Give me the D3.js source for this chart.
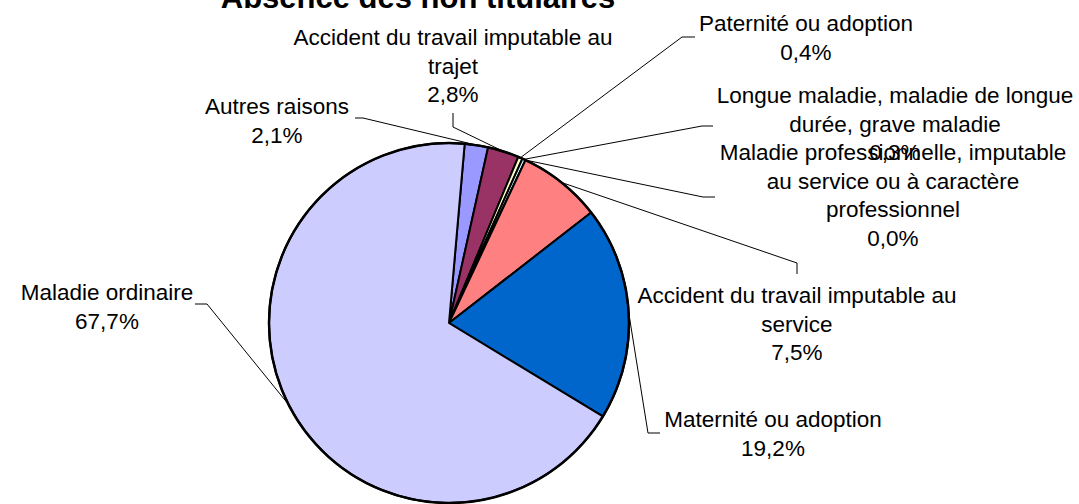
<!DOCTYPE html>
<html>
<head>
<meta charset="utf-8">
<script src="https://cdn.jsdelivr.net/npm/d3@7"></script>
<style>
  html, body { margin: 0; padding: 0; background: #fff; }
  svg { display: block; font-family: "Liberation Sans", Arial, sans-serif; }
</style>
</head>
<body>
<svg id="chart" width="1079" height="504"></svg>
<script>
const TITLE = "Absence des non titulaires";

// slices, clockwise starting at the first-slice angle
const categories = [
  "Autres raisons",
  "Accident du travail imputable au trajet",
  "Paternité ou adoption",
  "Longue maladie, maladie de longue durée, grave maladie",
  "Maladie professionnelle, imputable au service ou à caractère professionnel",
  "Accident du travail imputable au service",
  "Maternité ou adoption",
  "Maladie ordinaire",
];
const percents = [2.1, 2.8, 0.4, 0.3, 0.0, 7.5, 19.2, 67.7];

const sliceColors = ["#9999ff", "#993366", "#ffffcc", "#ccffff", "#660066", "#ff8080", "#0066cc", "#ccccff"];

// label placement: center x, first baseline, wrap width, leader (label end, elbow)
const labelLayout = [
  { x: 277, y: 114, wrap: 200, leader: [[355, 118], [363, 118]] },
  { x: 453, y: 45, wrap: 330, leader: [[453, 113], [453, 127]] },
  { x: 806, y: 31, wrap: 330, leader: [[695, 37], [682, 37]] },
  { x: 895, y: 103, wrap: 365, leader: [[713, 126], [702, 126]] },
  { x: 893, y: 160, wrap: 360, leader: [[715, 197], [703, 197]] },
  { x: 797, y: 303, wrap: 330, leader: [[797, 274], [797, 263]] },
  { x: 773, y: 427, wrap: 330, leader: [[660, 433], [648, 433]] },
  { x: 107, y: 300, wrap: 200, leader: [[195, 304], [207, 304]] },
];

const cx = 449, cy = 323, radius = 180;
const startDeg = 5;
const fontSize = 22.5, lineH = 28.5;

const svg = d3.select("#chart");
const fmt = (v) => d3.format(".1f")(v).replace(".", ",") + "%";

const data = categories.map((name, i) => ({ name, value: percents[i], i }));

const pie = d3.pie()
  .sort(null)
  .value((d) => d.value)
  .startAngle((startDeg * Math.PI) / 180)
  .endAngle((startDeg * Math.PI) / 180 + 2 * Math.PI);

const arcs = pie(data);
const arc = d3.arc().innerRadius(0).outerRadius(radius);

const g = svg.append("g").attr("transform", `translate(${cx},${cy})`);

g.selectAll("path.slice")
  .data(arcs)
  .join("path")
  .attr("class", "slice")
  .attr("d", arc)
  .attr("fill", (d) => sliceColors[d.index])
  .attr("stroke", "#000")
  .attr("stroke-width", 2)
  .attr("stroke-linejoin", "round");

g.append("circle")
  .attr("r", radius)
  .attr("fill", "none")
  .attr("stroke", "#000")
  .attr("stroke-width", 2.5);

// leader lines
const edgePoint = (d) => {
  const a = (d.startAngle + d.endAngle) / 2;
  return [cx + radius * Math.sin(a), cy - radius * Math.cos(a)];
};

svg.selectAll("polyline.leader")
  .data(arcs)
  .join("polyline")
  .attr("class", "leader")
  .attr("fill", "none")
  .attr("stroke", "#000")
  .attr("stroke-width", 1)
  .attr("points", (d) => {
    const pts = [...labelLayout[d.index].leader, edgePoint(d)];
    return pts.map((p) => p.join(",")).join(" ");
  });

// labels
function wrapLines(text, width) {
  const probe = svg.append("text").attr("font-size", fontSize);
  const words = text.split(" ");
  const lines = [];
  let cur = [];
  for (const w of words) {
    const test = cur.concat(w).join(" ");
    probe.text(test);
    if (probe.node().getComputedTextLength() > width && cur.length) {
      lines.push(cur.join(" "));
      cur = [w];
    } else {
      cur.push(w);
    }
  }
  if (cur.length) lines.push(cur.join(" "));
  probe.remove();
  return lines;
}

arcs.forEach((d) => {
  const lay = labelLayout[d.index];
  const lines = wrapLines(d.data.name, lay.wrap).concat(fmt(d.data.value));
  const t = svg.append("text")
    .attr("text-anchor", "middle")
    .attr("font-size", fontSize)
    .attr("fill", "#000");
  lines.forEach((ln, k) => {
    t.append("tspan").attr("x", lay.x).attr("y", lay.y + k * lineH).text(ln);
  });
});

svg.append("text")
  .attr("x", 418)
  .attr("y", 8)
  .attr("text-anchor", "middle")
  .attr("font-size", 31)
  .attr("font-weight", "bold")
  .attr("fill", "#000")
  .text(TITLE);
</script>
</body>
</html>
